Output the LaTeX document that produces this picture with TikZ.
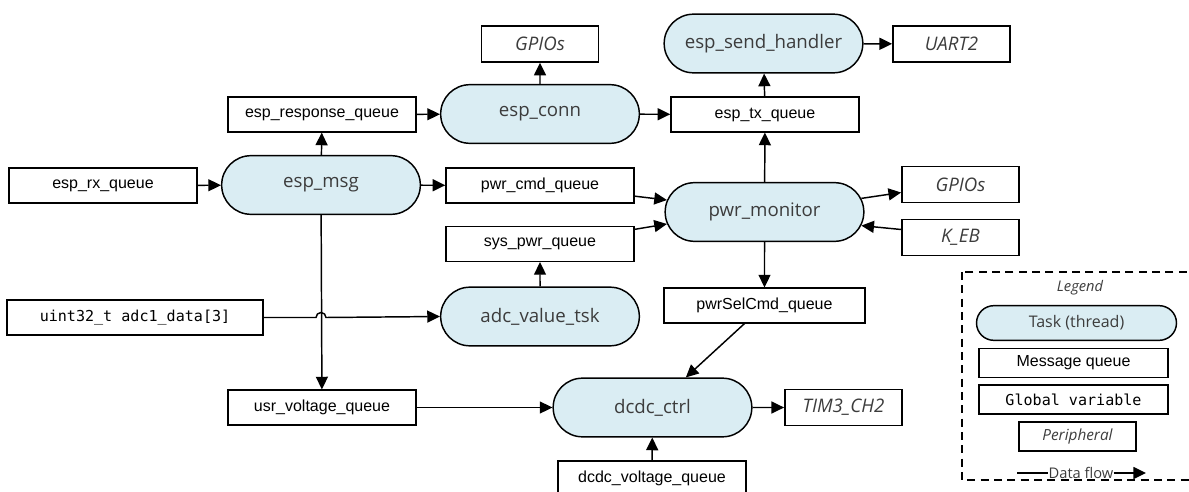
\documentclass[tikz,border=0pt]{standalone}
\usepackage{fontspec}
\setmainfont{Open Sans}
\newfontfamily\qfont{Liberation Sans}
\newfontfamily\mfont{DejaVu Sans Mono}
\usetikzlibrary{shapes.misc,arrows.meta,calc}
\definecolor{taskfill}{HTML}{DAEDF3}
\definecolor{tasktext}{HTML}{3C3C3C}
\tikzset{
  task/.style={rounded rectangle, draw, line width=1.1pt, fill=taskfill,
    minimum width=149pt, minimum height=44pt, inner sep=0pt,
    font=\fontsize{14}{16}\selectfont, text=tasktext},
  queue/.style={rectangle, draw, line width=1.1pt, minimum width=141pt,
    minimum height=26pt, inner sep=0pt, font=\qfont\fontsize{12}{14}\selectfont},
  gvar/.style={queue, font=\mfont\fontsize{11.3}{13}\selectfont},
  periph/.style={rectangle, draw, line width=1.1pt, minimum width=88pt,
    minimum height=27pt, inner sep=0pt, font=\itshape\fontsize{14}{16}\selectfont,
    text=tasktext},
  flow/.style={line width=1.1pt, -{Triangle[length=9.5pt,width=9pt]}},
  plain/.style={line width=1.1pt},
}
\begin{document}
\begin{tikzpicture}[x=0.75pt,y=-0.75pt]
\useasboundingbox (0,0) rectangle (1189,492);
% tasks
\node[task] (msg)  at (321,185)     {esp\_msg};
\node[task] (conn) at (540,114)     {esp\_conn};
\node[task] (send) at (763.5,43.5)  {esp\_send\_handler};
\node[task] (pmon) at (764.5,212)   {pwr\_monitor};
\node[task] (adc)  at (540,316.5)   {adc\_value\_tsk};
\node[task] (dcdc) at (652.5,407.5) {dcdc\_ctrl};
% queues
\node[queue] (rxq)   at (103,185.5)   {esp\_rx\_queue};
\node[queue] (respq) at (322,114.5)   {esp\_response\_queue};
\node[queue] (txq)   at (765,114.5)   {esp\_tx\_queue};
\node[queue] (pcmd)  at (540,185.5)   {pwr\_cmd\_queue};
\node[queue] (spwr)  at (540,244)     {sys\_pwr\_queue};
\node[queue, minimum width=151pt] (psel) at (764.5,305.5) {pwrSelCmd\_queue};
\node[queue] (usrq)  at (322,407.5)   {usr\_voltage\_queue};
\node[queue] (dvq)   at (652,478.5)   {dcdc\_voltage\_queue};
% global variable
\node[gvar, minimum width=192pt] (gv) at (135,317.5) {uint32\_t adc1\_data[3]};
% peripherals
\node[periph] (gpio1) at (540,44)      {GPIOs};
\node[periph] (uart)  at (951.5,44)    {UART2};
\node[periph] (gpio2) at (960.5,184.5) {GPIOs};
\node[periph] (keb)   at (960.5,237.5) {K\_EB};
\node[periph] (tim)   at (843.5,407.5) {TIM3\_CH2};
% connectors
\draw[flow] (rxq) -- (msg);
\draw[flow] (msg) -- (respq);
\draw[flow] (respq) -- (conn);
\draw[flow] (conn) -- (gpio1);
\draw[flow] (conn) -- (txq);
\draw[flow] (txq) -- (send);
\draw[flow] (send) -- (uart);
\draw[flow] (msg) -- (pcmd);
\draw[flow] ([yshift=-8pt]pcmd.east) -- (pmon.173);
\draw[flow] ([yshift=11pt]spwr.east) -- (pmon.187);
\draw[flow] (adc) -- (spwr);
\draw[flow] (pmon) -- (txq);
\draw[flow] (pmon.8) -- ([yshift=-6pt]gpio2.west);
\draw[flow] ([yshift=6pt]keb.west) -- (pmon.352);
\draw[flow] (pmon) -- (psel);
\draw[flow] ([xshift=-15pt]psel.south) -- ([xshift=25pt]dcdc.north);
\draw[flow] (msg) -- (usrq);
\draw[flow] (gv.east) -- ($(gv.east -| msg.south)+(-5,0)$)
  arc[start angle=180, end angle=0, radius=3.75pt] -- (adc.west);
\draw[flow] (usrq) -- (dcdc);
\draw[flow] (dcdc) -- (tim);
\draw[flow] (dvq) -- (dcdc);
% legend
\draw[line width=1.1pt, dash pattern=on 6pt off 4pt] (962,272) rectangle (1193,480);
\node[font=\itshape\fontsize{11}{13}\selectfont, text=tasktext] (lgt) at (1080,288) {Legend};
\node[task, minimum width=150pt, minimum height=26pt,
  font=\fontsize{12}{14}\selectfont] (ltask) at (1076.5,323) {Task (thread)};
\node[queue, minimum width=142pt, minimum height=22pt,
  font=\qfont\fontsize{12}{14}\selectfont] (lq) at (1073.5,363) {Message queue};
\node[gvar, minimum width=142pt, minimum height=22pt,
  font=\mfont\fontsize{11.3}{13}\selectfont] (lg) at (1073.5,399.5) {Global variable};
\node[periph, minimum width=88pt, minimum height=22pt,
  font=\itshape\fontsize{11.5}{13}\selectfont] (lp) at (1077.5,436.5) {Peripheral};
\node[font=\fontsize{11}{13}\selectfont, text=tasktext, inner sep=0pt] (ldf) at (1081,473) {Data flow};
\coordinate (dfa) at (1017,473);
\coordinate (dfb) at (1146,473);
\draw[plain] (dfa) -- (ldf.west);
\draw[flow] (ldf.east) -- (dfb);
\end{tikzpicture}
\end{document}
